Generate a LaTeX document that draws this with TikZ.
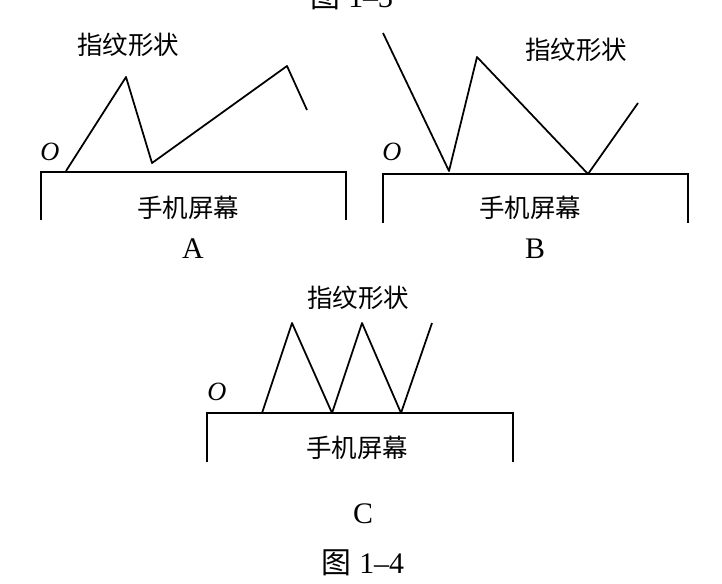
\documentclass[tikz,border=0pt]{standalone}
\usepackage{fontspec}
\setmainfont{Liberation Serif}
\newfontfamily\cjk{Noto Sans CJK SC}
\begin{document}
\begin{tikzpicture}[x=0.02cm,y=-0.02cm,
  cjklabel/.style={font=\cjk\fontsize{14.5}{16}\selectfont, inner sep=0pt},
  letter/.style={font=\fontsize{17}{20}\selectfont, inner sep=0pt},
  origin/.style={font=\itshape\fontsize{15}{18}\selectfont, inner sep=0pt},
  ridge/.style={line width=1pt, line join=round},
  screen/.style={line width=1pt, line join=miter}]
\useasboundingbox (0,0) rectangle (722,583);
% top caption (cut off at the top edge, as in the reference)
\node[letter] (cap3) at (352,-3) {{\cjk 图} 1–3};

% ---------- Panel A ----------
\coordinate (a1) at (41,220); \coordinate (a2) at (41,172);
\coordinate (a3) at (346,172); \coordinate (a4) at (346,220);
\draw[screen] (a1) -- (a2) -- (a3) -- (a4);
\coordinate (za0) at (66,171); \coordinate (za1) at (126,77);
\coordinate (za2) at (152,163); \coordinate (za3) at (287,66);
\coordinate (za4) at (307,110);
\draw[ridge] (za0) -- (za1) -- (za2) -- (za3) -- (za4);
\node[origin] (oa) at (50,152) {O};
\node[cjklabel] (fa) at (128,45) {指纹形状};
\node[cjklabel] (sa) at (188,208) {手机屏幕};
\node[letter] (la) at (193,249) {A};

% ---------- Panel B ----------
\coordinate (b1) at (383,223); \coordinate (b2) at (383,174);
\coordinate (b3) at (688,174); \coordinate (b4) at (688,223);
\draw[screen] (b1) -- (b2) -- (b3) -- (b4);
\coordinate (zb0) at (383,33); \coordinate (zb1) at (449,171);
\coordinate (zb2) at (477,57); \coordinate (zb3) at (588,174);
\coordinate (zb4) at (638,103);
\draw[ridge] (zb0) -- (zb1) -- (zb2) -- (zb3) -- (zb4);
\node[origin] (ob) at (392,152) {O};
\node[cjklabel] (fb) at (576,50) {指纹形状};
\node[cjklabel] (sb) at (530,208) {手机屏幕};
\node[letter] (lb) at (535,249) {B};

% ---------- Panel C ----------
\coordinate (c1) at (207,462); \coordinate (c2) at (207,413);
\coordinate (c3) at (513,413); \coordinate (c4) at (513,462);
\draw[screen] (c1) -- (c2) -- (c3) -- (c4);
\coordinate (zc0) at (262,413); \coordinate (zc1) at (292,323);
\coordinate (zc2) at (332,413); \coordinate (zc3) at (362,323);
\coordinate (zc4) at (401,413); \coordinate (zc5) at (432,323);
\draw[ridge] (zc0) -- (zc1) -- (zc2) -- (zc3) -- (zc4) -- (zc5);
\node[origin] (oc) at (217,392) {O};
\node[cjklabel] (fc) at (358,298) {指纹形状};
\node[cjklabel] (sc) at (357,448) {手机屏幕};
\node[letter] (lc) at (363,514) {C};
\node[letter] (cap4) at (363,563) {{\cjk 图} 1–4};
\end{tikzpicture}
\end{document}
